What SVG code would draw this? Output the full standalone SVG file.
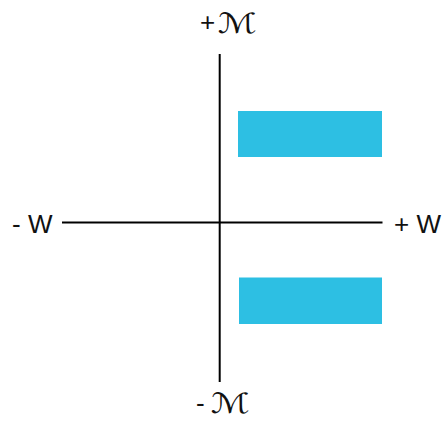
<svg xmlns="http://www.w3.org/2000/svg" width="445" height="425" viewBox="0 0 445 425">
<style>
.lbl{font-family:"Liberation Sans",Arial,sans-serif;font-size:26px;fill:#111}
.m{font-family:"DejaVu Serif","DejaVu Sans",serif;font-size:28px;font-style:italic;fill:#111}
.bar{fill:#2DBFE3}
.axis{stroke:#000;stroke-width:2;fill:none}
</style>
<rect width="445" height="425" fill="#fff"/>
<g id="connectors">
<line class="axis" x1="219.7" y1="54" x2="219.7" y2="382"/>
<line class="axis" x1="62" y1="222.5" x2="382.5" y2="222.5"/>
</g>
<g id="bar-top"><rect class="bar" x="238" y="111" width="144" height="46"/></g>
<g id="bar-bottom"><rect class="bar" x="239" y="277.5" width="143" height="46.5"/></g>
<g id="label-top"><text class="lbl" x="200" y="31">+</text><text class="m" transform="translate(218,33) scale(1.3,1)">ℳ</text></g>
<g id="label-bottom"><text class="lbl" x="196" y="412">-</text><text class="m" transform="translate(211,413) scale(1.3,1)">ℳ</text></g>
<g id="label-left"><text class="lbl" x="12" y="233">- W</text></g>
<g id="label-right"><text class="lbl" x="394" y="233">+ W</text></g>
</svg>
